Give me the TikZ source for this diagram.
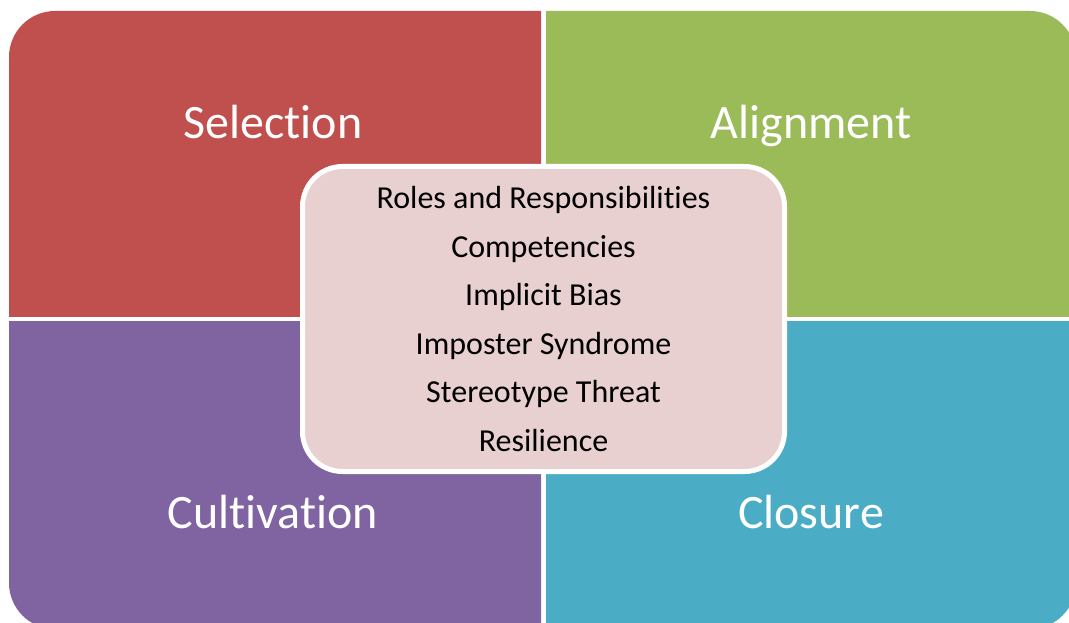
\documentclass[tikz,border=0pt]{standalone}
\usepackage{fontspec}
\setmainfont[Ligatures={NoCommon,NoRequired,NoContextual}]{Carlito}
\usetikzlibrary{positioning}

\definecolor{selred}{HTML}{C0504D}
\definecolor{aligngreen}{HTML}{9BBB59}
\definecolor{cultpurple}{HTML}{8064A2}
\definecolor{closeblue}{HTML}{4BACC6}
\definecolor{corepink}{HTML}{E8D0D1}

\begin{document}
\begin{tikzpicture}[x=1pt,y=-1pt,
    title/.style={text=white,anchor=base,font=\fontsize{48}{54}\selectfont},
    corebox/.style={draw=white,line width=5pt,fill=corepink,rounded corners=40pt,
      minimum width=482pt,minimum height=305pt,align=center,
      font=\fontsize{32}{48.6}\selectfont}]
  \def\R{46pt}
  \useasboundingbox (0,0) rectangle (1069,623);
  \clip (0,0) rectangle (1069,623);
  % four quarters of one rounded block
  \foreach \xa/\xb/\ya/\yb/\col in {9/541/11/316/selred,546/1076/11/316/aligngreen,
      9/541/321/629/cultpurple,546/1076/321/629/closeblue}{
    \begin{scope}
      \clip (\xa,\ya) rectangle (\xb,\yb);
      \fill[\col,rounded corners=\R] (9,11) rectangle (1076,629);
    \end{scope}
  }
  \node[title] (sel) at (273,139) {Selection};
  \node[title] (ali) at (811,139) {Alignment};
  \node[title] (cul) at (273,528) {Cultivation};
  \node[title] (clo) at (811,528) {Closure};
  % centre box
  \node[corebox] (core) at (543.5,319) {Roles and Responsibilities\\Competencies\\Implicit Bias\\
    Imposter Syndrome\\Stereotype Threat\\Resilience};
\end{tikzpicture}
\end{document}
